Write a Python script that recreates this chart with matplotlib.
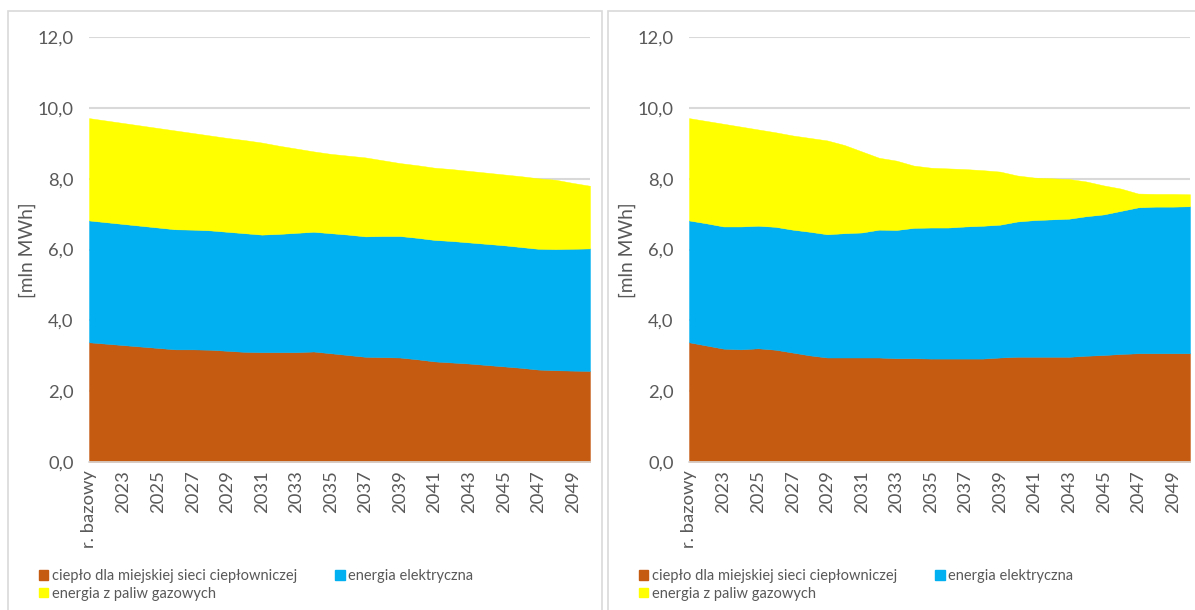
import matplotlib
matplotlib.use("Agg")
import matplotlib.pyplot as plt
from matplotlib.patches import Patch, Rectangle

# ── Data ──────────────────────────────────────────────────────────────────────
categories = ["r. bazowy"] + [str(y) for y in range(2022, 2051)]

series_names = [
    "ciepło dla miejskiej sieci ciepłowniczej",
    "energia elektryczna",
    "energia z paliw gazowych",
]

# left panel [mln MWh]
left_heat = [3.38, 3.34, 3.30, 3.26, 3.22, 3.18, 3.18, 3.17, 3.14, 3.11,
             3.10, 3.10, 3.10, 3.12, 3.07, 3.02, 2.97, 2.96, 2.95, 2.90,
             2.84, 2.81, 2.78, 2.74, 2.70, 2.66, 2.61, 2.59, 2.58, 2.57]
left_elec = [3.44, 3.43, 3.42, 3.41, 3.40, 3.39, 3.38, 3.37, 3.36, 3.35,
             3.32, 3.34, 3.37, 3.38, 3.39, 3.40, 3.40, 3.42, 3.43, 3.43,
             3.43, 3.43, 3.42, 3.42, 3.42, 3.41, 3.41, 3.42, 3.44, 3.46]
left_gas = [2.89, 2.87, 2.85, 2.83, 2.81, 2.79, 2.73, 2.68, 2.65, 2.63,
            2.60, 2.49, 2.38, 2.27, 2.24, 2.23, 2.23, 2.14, 2.06, 2.05,
            2.04, 2.03, 2.02, 2.01, 2.00, 2.00, 1.99, 1.96, 1.86, 1.77]

# right panel [mln MWh]
right_heat = [3.38, 3.29, 3.20, 3.18, 3.21, 3.17, 3.09, 3.01, 2.95, 2.95,
              2.95, 2.95, 2.93, 2.93, 2.92, 2.92, 2.92, 2.92, 2.95, 2.97,
              2.97, 2.97, 2.97, 3.00, 3.02, 3.05, 3.07, 3.07, 3.07, 3.07]
right_elec = [3.44, 3.45, 3.45, 3.47, 3.46, 3.47, 3.47, 3.49, 3.48, 3.51,
              3.53, 3.61, 3.62, 3.68, 3.70, 3.70, 3.73, 3.75, 3.75, 3.82,
              3.86, 3.88, 3.90, 3.94, 3.97, 4.04, 4.12, 4.14, 4.14, 4.15]
right_gas = [2.89, 2.89, 2.90, 2.82, 2.72, 2.67, 2.66, 2.65, 2.65, 2.49,
             2.29, 2.03, 1.96, 1.76, 1.69, 1.67, 1.62, 1.57, 1.50, 1.30,
             1.20, 1.16, 1.12, 0.98, 0.82, 0.63, 0.39, 0.36, 0.36, 0.34]

y_ticks = [0, 2, 4, 6, 8, 10, 12]

# ── Style ─────────────────────────────────────────────────────────────────────
COLORS = ["#C55A11", "#00B0F0", "#FFFF00"]
TEXT = "#595959"
GRID = "#D9D9D9"
FONT = "Lato"

W, H = 1195, 610
plt.rcParams["font.family"] = [FONT, "DejaVu Sans"]

fig = plt.figure(figsize=(W / 100, H / 100), dpi=100)


def px_rect(x0, y_top, w, h):
    """pixel box (top-left origin) -> figure fraction rect"""
    return [x0 / W, (H - y_top - h) / H, w / W, h / H]


def draw_panel(x_off, heat, elec, gas):
    # chart-area border
    fig.patches.append(Rectangle(((x_off + 8) / W, -0.05), 594 / W, (H - 11) / H + 0.05,
                                 transform=fig.transFigure, fill=False,
                                 edgecolor=GRID, lw=1.2))

    ax = fig.add_axes(px_rect(x_off + 89, 37, 501, 425))
    x = list(range(len(categories)))
    ax.stackplot(x, heat, elec, gas, colors=COLORS, edgecolor="face", lw=0.3)

    ax.set_xlim(0, len(categories) - 1)
    ax.set_ylim(0, 12)
    ax.set_yticks(y_ticks)
    ax.set_yticklabels([f"{v:.1f}".replace(".", ",") for v in y_ticks])
    ax.set_xticks(x[::2])
    ax.set_xticklabels(categories[::2], rotation=90)

    ax.grid(axis="y", color=GRID, lw=1.5)
    ax.set_axisbelow(True)
    for s in ("top", "right", "left"):
        ax.spines[s].set_visible(False)
    ax.spines["bottom"].set_color(GRID)
    ax.spines["bottom"].set_linewidth(1.2)
    ax.tick_params(axis="both", length=0, colors=TEXT, labelsize=13.2)
    ax.tick_params(axis="y", pad=11)
    ax.tick_params(axis="x", pad=6)

    fig.text((x_off + 27) / W, (H - 250) / H, "[mln MWh]", rotation=90,
             ha="center", va="center", fontsize=13.8, color=TEXT)

    # legend, row-major order: heat, elec / gas
    handles = [Patch(color=COLORS[0], label=series_names[0]),
               Patch(color=COLORS[2], label=series_names[2]),
               Patch(color=COLORS[1], label=series_names[1])]
    fig.legend(handles=handles, ncol=2, loc="upper left",
               bbox_to_anchor=((x_off + 39) / W, (H - 569) / H),
               frameon=False, fontsize=10.5, labelcolor=TEXT,
               handlelength=0.65, handleheight=0.65, handletextpad=0.25,
               columnspacing=2.6, labelspacing=0.25, borderpad=0,
               borderaxespad=0)
    return ax


draw_panel(0, left_heat, left_elec, left_gas)
draw_panel(600, right_heat, right_elec, right_gas)

fig.savefig("out.png", dpi=100)
